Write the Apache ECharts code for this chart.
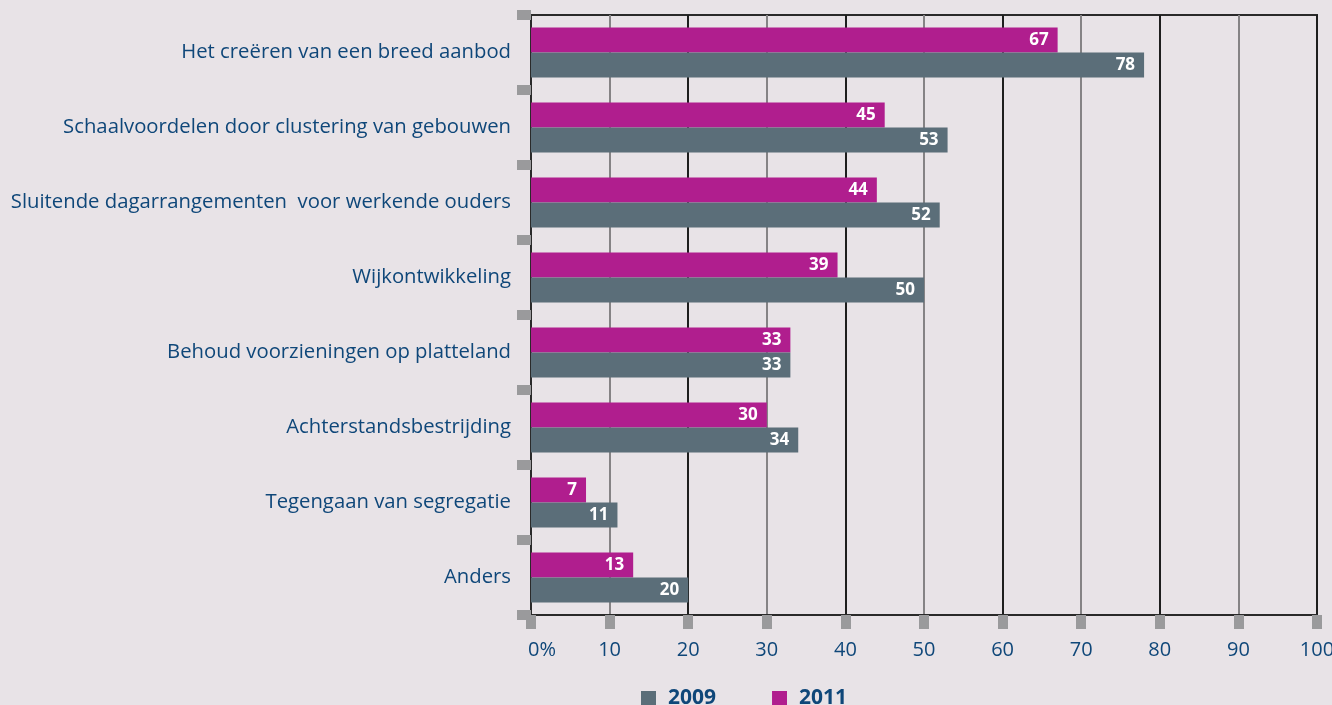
<!DOCTYPE html>
<html>
<head>
<meta charset="utf-8">
<script src="https://cdn.jsdelivr.net/npm/echarts@6/dist/echarts.min.js"></script>
<style>
  html, body { margin: 0; padding: 0; background: #e8e3e7; }
  #chart { width: 1332px; height: 705px; }
</style>
</head>
<body>
<div id="chart"></div>
<script>
const categories = [
  'Het creëren van een breed aanbod',
  'Schaalvoordelen door clustering van gebouwen',
  'Sluitende dagarrangementen  voor werkende ouders',
  'Wijkontwikkeling',
  'Behoud voorzieningen op platteland',
  'Achterstandsbestrijding',
  'Tegengaan van segregatie',
  'Anders'
]
const values2011 = [67, 45, 44, 39, 33, 30, 7, 13]
const values2009 = [78, 53, 52, 50, 33, 34, 11, 20]

const blue = '#0f4779'
const font = 'Open Sans'

const chart = echarts.init(document.getElementById('chart'))

const barLabel = {
  show: true,
  position: 'insideRight',
  distance: 9,
  color: '#fff',
  fontFamily: font,
  fontWeight: 'bold',
  fontSize: 17
}

chart.setOption({
  backgroundColor: '#e8e3e7',
  animation: false,
  grid: {
    left: 531,
    right: 15,
    top: 15,
    bottom: 90,
    outerBoundsMode: 'none',
    show: true,
    borderColor: '#2a2a2a',
    borderWidth: 2,
    backgroundColor: 'transparent'
  },
  legend: {
    data: ['2009', '2011'],
    bottom: -9,
    left: 636,
    itemWidth: 15,
    itemHeight: 15,
    itemGap: 56,
    icon: 'rect',
    textStyle: { color: blue, fontFamily: font, fontWeight: 'bold', fontSize: 21, padding: [0, 0, 0, 7] }
  },
  xAxis: {
    type: 'value',
    min: 0,
    max: 100,
    interval: 10,
    axisLine: { show: true, lineStyle: { color: '#2a2a2a', width: 2 } },
    axisTick: { show: true, length: 14, lineStyle: { color: '#9a9a9c', width: 10 } },
    splitLine: { show: true, lineStyle: { color: ['#1e1e1e', '#858385'], width: 2 } },
    axisLabel: {
      margin: 25,
      color: blue,
      fontFamily: font,
      fontSize: 20,
      formatter: v => v === 0 ? '{p|0%}' : String(v),
      rich: { p: { color: blue, fontFamily: font, fontSize: 20, padding: [0, 0, 0, 22] } }
    }
  },
  yAxis: {
    type: 'category',
    inverse: true,
    data: categories,
    axisLine: { show: true, lineStyle: { color: '#2a2a2a', width: 2 } },
    axisTick: { show: true, length: 14, lineStyle: { color: '#9a9a9c', width: 10 } },
    axisLabel: { margin: 20, color: blue, fontFamily: font, fontSize: 20.3 }
  },
  series: [
    {
      name: '2011',
      type: 'bar',
      data: values2011,
      barWidth: 25,
      barGap: '0%',
      itemStyle: { color: '#b01e8e' },
      label: barLabel
    },
    {
      name: '2009',
      type: 'bar',
      data: values2009,
      barWidth: 25,
      barGap: '0%',
      itemStyle: { color: '#5b6e79' },
      label: barLabel
    }
  ]
})
</script>
</body>
</html>
